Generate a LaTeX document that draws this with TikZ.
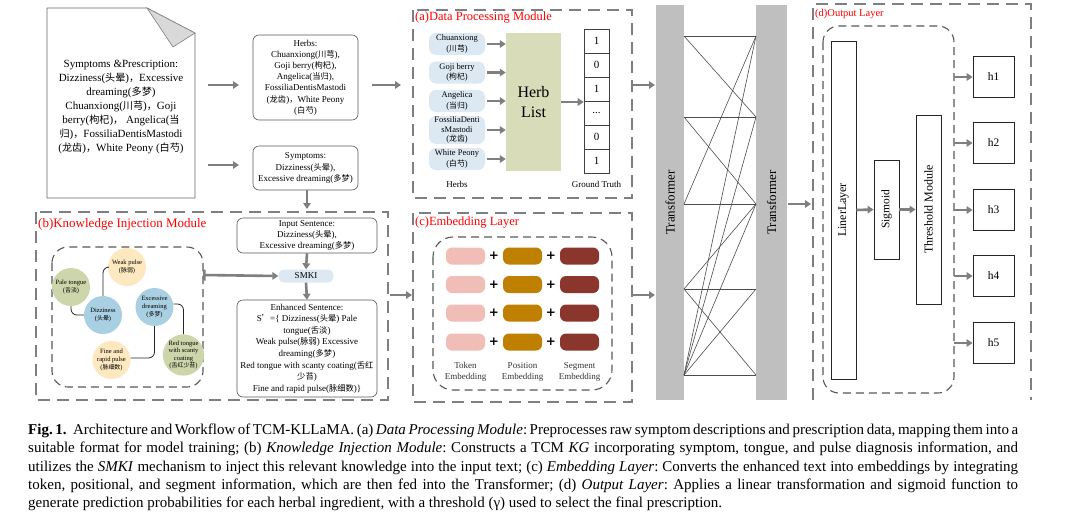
\documentclass[tikz,border=0pt]{standalone}
\usepackage{fontspec}
\setmainfont{Liberation Serif}
\newfontfamily\cjk[Scale=0.92]{Noto Sans CJK SC}
\newfontfamily\plusfont{DejaVu Sans}
\usetikzlibrary{arrows.meta}
\newcommand{\zh}[1]{{\cjk #1}}
\newcommand{\fsz}[2]{\fontsize{#1}{#2}\selectfont}
\definecolor{dgray}{HTML}{7F7F7F}
\definecolor{lblue}{HTML}{DCE9F3}
\definecolor{olive}{HTML}{D8DCB9}
\definecolor{kgblue}{HTML}{A8CFE2}
\definecolor{kggreen}{HTML}{CDD5AA}
\definecolor{kgyellow}{HTML}{FDE8C0}
\definecolor{tokc}{HTML}{F0BDB7}
\definecolor{posc}{HTML}{BF8000}
\definecolor{segc}{HTML}{8B362D}
\definecolor{trg}{HTML}{BFBFBF}
\frenchspacing
\begin{document}
\begin{tikzpicture}[x=1pt,y=-1pt,
  mod/.style={draw=dgray, line width=1.6pt, dash pattern=on 12pt off 7pt},
  innerbox/.style={draw=black!65, line width=1.1pt, dash pattern=on 8pt off 5pt, rounded corners=16pt},
  arr/.style={draw=dgray, line width=2.6pt, -{Triangle[length=6pt,width=7.5pt]}},
  txtbox/.style={draw=black!65, line width=0.6pt, rounded corners=6pt, align=center, font=\fsz{9}{11.2}, inner sep=1pt},
  herb/.style={fill=lblue, rounded corners=7pt, minimum width=56pt, minimum height=22pt, align=center, font=\fsz{8.5}{10.5}, inner sep=0.5pt},
  modlabel/.style={text=red, anchor=west, inner sep=0pt},
  kg/.style={circle, minimum size=38pt, inner sep=0pt, align=center, font=\fsz{6.5}{7.6}},
  kgline/.style={draw=black!85, line width=0.8pt, rounded corners=6pt},
  pill/.style={rounded corners=6pt, minimum width=39pt, minimum height=17pt, inner sep=0pt},
  cell/.style={draw=black!75, line width=0.6pt, minimum width=25pt, minimum height=24pt, inner sep=0pt, font=\fsz{11}{13}},
  blk/.style={draw=black!85, line width=0.8pt, inner sep=0pt, align=center},
  tbar/.style={fill=trg, inner sep=0pt, font=\fsz{13}{15}},
  link/.style={draw=black!70, line width=0.6pt},
  plus/.style={font=\plusfont\bfseries\fsz{12}{13}, inner sep=0pt},
  captext/.style={anchor=base west, inner sep=0pt, font=\fsz{15}{17}}
]
\fill[white] (0,0) rectangle (1072,523);
\useasboundingbox (0,0) rectangle (1072,523);

% ---------- raw document ----------
\draw[black!60, line width=0.6pt] (47,8) -- (147,8) -- (195,33) -- (195,198) -- (47,198) -- cycle;
\filldraw[fill=black!15, draw=black!50, line width=0.6pt] (147,8) -- (195,33) -- (173,47) -- cycle;
\node[align=center, font=\fsz{11}{14}, inner sep=0pt] (doc) at (121,107)
 {Symptoms \&Prescription:\\
  Dizziness(\zh{头晕})\zh{，}Excessive\\
  dreaming(\zh{多梦})\\
  Chuanxiong(\zh{川芎})\zh{，}Goji\\
  berry(\zh{枸杞})\zh{，} Angelica(\zh{当}\\
  \zh{归})\zh{，}FossiliaDentisMastodi\\
  (\zh{龙齿})\zh{，}White Peony (\zh{白芍})};
\coordinate (da1) at (208,85); \coordinate (da2) at (239,85);
\coordinate (db1) at (208,165); \coordinate (db2) at (239,165);
\draw[arr] (da1) -- (da2);
\draw[arr] (db1) -- (db2);

% ---------- herbs / symptoms ----------
\node[txtbox, minimum width=105pt, minimum height=85pt] (herbs) at (305.5,77.5)
 {Herbs:\\Chuanxiong(\zh{川芎}),\\Goji berry(\zh{枸杞}),\\Angelica(\zh{当归}),\\FossiliaDentisMastodi\\(\zh{龙齿})\zh{，}White Peony\\(\zh{白芍})};
\node[txtbox, minimum width=105pt, minimum height=44pt] (symp) at (305.5,168)
 {Symptoms:\\Dizziness(\zh{头晕}),\\Excessive dreaming(\zh{多梦})};
\coordinate (ha1) at (372,85); \coordinate (ha2) at (401,85);
\draw[arr] (ha1) -- (ha2);
\coordinate (sd) at (307,209);
\draw[arr] (symp.south -| sd) -- (sd);

% ---------- (a) Data Processing Module ----------
\draw[mod] (413,10) rectangle (632,198);
\node[modlabel, font=\fsz{12.5}{14}] (la) at (415,18) {(a)Data Processing Module};
\node[herb] (hb1) at (457,44) {Chuanxiong\\(\zh{川芎})};
\node[herb] (hb2) at (457,72.5) {Goji berry\\(\zh{枸杞})};
\node[herb] (hb3) at (457,101) {Angelica\\(\zh{当归})};
\node[herb, minimum height=25pt, font=\fsz{8.5}{9.6}] (hb4) at (457,130) {FossiliaDenti\\sMastodi\\(\zh{龙齿})};
\node[herb] (hb5) at (457,159) {White Peony\\(\zh{白芍})};
\node[fill=olive, minimum width=55pt, minimum height=138pt, align=center, font=\fsz{16}{20}, inner sep=0pt] (hl) at (533.5,102) {Herb\\List};
\foreach \i in {1,...,5} { \draw[arr] ([xshift=2pt]hb\i.east) -- (hb\i.east -| hl.west); }
\node[cell] (g1) at (596.5,41) {1};
\node[cell] (g2) at (596.5,65) {0};
\node[cell] (g3) at (596.5,89) {1};
\node[cell] (g4) at (596.5,113) {...};
\node[cell] (g5) at (596.5,137) {0};
\node[cell] (g6) at (596.5,161) {1};
\draw[arr] (hl.east) -- (hl.east -| g1.west);
\node[font=\fsz{9}{11}] (lh) at (457,184) {Herbs};
\node[font=\fsz{9}{11}] (lg) at (596.5,184) {Ground Truth};

% ---------- (b) Knowledge Injection Module ----------
\draw[mod] (36,212) rectangle (388,400);
\node[modlabel, font=\fsz{13}{15}] (lb) at (38,224) {(b)Knowledge Injection Module};
\draw[innerbox] (52,247) rectangle (203,387);
\node[kg, fill=kggreen] (pale) at (71,287) {Pale tongue\\(\zh{舌淡})};
\node[kg, fill=kgyellow] (weak) at (127,267) {Weak pulse\\(\zh{脉弱})};
\node[kg, fill=kgblue] (dizz) at (103,315) {Dizziness\\(\zh{头晕})};
\node[kg, fill=kgblue] (exc) at (154.5,307) {Excessive\\dreaming\\(\zh{多梦})};
\node[kg, fill=kgyellow] (fine) at (111.5,360) {Fine and\\rapid pulse\\(\zh{脉细数})};
\node[kg, fill=kggreen] (red) at (183.5,355) {Red tongue\\with scanty\\coating\\(\zh{舌红少苔})};
\draw[kgline] (pale.south) |- (dizz.west);
\draw[kgline] (weak.west) -| (dizz.north);
\draw[kgline] ([yshift=3pt]exc.east) -| (red.north);
\draw[kgline] (exc.south) |- ([yshift=2pt]fine.east);

\node[txtbox, minimum width=140pt, minimum height=35pt] (inp) at (307,235.5)
 {Input Sentence:\\Dizziness(\zh{头晕}),\\Excessive dreaming(\zh{多梦})};
\node[fill=lblue, rounded corners=6pt, minimum width=55pt, minimum height=13pt, inner sep=0pt, font=\fsz{9}{11}] (smki) at (306,276) {SMKI};
\node[txtbox, minimum width=140pt, minimum height=97pt, font=\fsz{9}{11.6}] (enh) at (307,348.5)
 {Enhanced Sentence:\\
  S\zh{’}=\{ Dizziness(\zh{头晕}) Pale\\
  tongue(\zh{舌淡})\\
  Weak pulse(\zh{脉弱}) Excessive\\
  dreaming(\zh{多梦})\\
  Red tongue with scanty coating(\zh{舌红}\\
  \zh{少苔})\\
  Fine and rapid pulse(\zh{脉细数})\}};
\draw[arr] (inp.south) -- (smki.north);
\draw[arr] (smki.south) -- (enh.north);
\coordinate (kgr) at (203,275);
\draw[arr, {Bar[width=11pt]}-{Triangle[length=6pt,width=7.5pt]}] (kgr) -- (smki.west);
\coordinate (bc1) at (390,295); \coordinate (bc2) at (412,295);
\draw[arr] (bc1) -- (bc2);

% ---------- (c) Embedding Layer ----------
\draw[mod] (413,213) rectangle (632,402);
\node[modlabel, font=\fsz{12.5}{14}] (lc) at (415,223) {(c)Embedding Layer};
\draw[innerbox, rounded corners=20pt] (433,237) rectangle (612,390);
\foreach \y/\k in {256/1,284.5/2,313/3,342/4} {
  \node[pill, fill=tokc] (tk\k) at (465.5,\y) {};
  \node[pill, fill=posc] (ps\k) at (522.5,\y) {};
  \node[pill, fill=segc] (sg\k) at (579.5,\y) {};
  \node[plus] (pa\k) at (494,\y) {+};
  \node[plus] (pb\k) at (551,\y) {+};
}
\node[align=center, font=\fsz{9}{11}, text=black!80] (ltk) at (465.5,371.5) {Token\\Embedding};
\node[align=center, font=\fsz{9}{11}, text=black!80] (lps) at (522.5,371.5) {Position\\Embedding};
\node[align=center, font=\fsz{9}{11}, text=black!80] (lsg) at (579.5,371.5) {Segment\\Embedding};

% ---------- Transformers ----------
\coordinate (at1) at (633,85); \coordinate (at2) at (655,85);
\coordinate (ct1) at (633,295); \coordinate (ct2) at (655,295);
\draw[arr] (at1) -- (at2);
\draw[arr] (ct1) -- (ct2);
\node[tbar, rotate=90, minimum width=395pt, minimum height=28pt] (t1) at (670,202.5) {Transformer};
\node[tbar, rotate=90, minimum width=395pt, minimum height=31pt] (t2) at (771.5,202.5) {Transformer};
\foreach \i/\y in {1/36,2/117,3/204,4/289,5/375} {
  \coordinate (L\i) at (684,\y);
  \coordinate (R\i) at (756,\y);
  \draw[link] (L\i) -- (R\i);
}
\foreach \a/\b in {1/2,2/3,3/1,4/3,4/5,5/1,5/2,5/3,5/4} { \draw[link] (L\a) -- (R\b); }
\coordinate (td1) at (788,204); \coordinate (td2) at (811,204);
\draw[arr] (td1) -- (td2);

% ---------- (d) Output Layer ----------
\draw[mod] (813,400) -- (813,4) -- (1031,4) -- (1031,400);
\node[modlabel, font=\fsz{10.5}{12}] (ld) at (815,14) {(d)Output Layer};
\draw[innerbox] (823,26) rectangle (954,393);
\node[blk, rotate=90, minimum width=338pt, minimum height=25pt, font=\fsz{12}{14}] (lin) at (843.5,210) {LinerLayer};
\node[blk, rotate=90, minimum width=99pt, minimum height=25pt, font=\fsz{11.5}{13}] (sig) at (886.5,209.5) {Sigmoid};
\node[blk, rotate=90, minimum width=189pt, minimum height=25pt, font=\fsz{12}{14}] (thr) at (928.5,209.5) {Threshold Module};
\draw[arr] (lin.south) -- (sig.north);
\draw[arr] (sig.south) -- (thr.north);
\foreach \i/\y in {1/77,2/143,3/210,4/276,5/343} {
  \node[blk, minimum size=41pt, font=\fsz{11.5}{13}] (o\i) at (993.5,\y) {h\i};
  \coordinate (oi\i) at (954,\y);
  \draw[arr] (oi\i) -- (o\i.west);
}

% ---------- caption ----------
\node[captext] (c1) at (28,434.5) {\makebox[990pt][s]{\textbf{Fig. 1.}\hspace{4pt} Architecture and Workflow of TCM-KLLaMA. (a) \textit{Data Processing Module}: Preprocesses raw symptom descriptions and prescription data, mapping them into a}};
\node[captext] (c2) at (28,452.8) {\makebox[990pt][s]{suitable format for model training; (b) \textit{Knowledge Injection Module}: Constructs a TCM \textit{KG} incorporating symptom, tongue, and pulse diagnosis information, and}};
\node[captext] (c3) at (28,471.2) {\makebox[990pt][s]{utilizes the \textit{SMKI} mechanism to inject this relevant knowledge into the input text; (c) \textit{Embedding Layer}: Converts the enhanced text into embeddings by integrating}};
\node[captext] (c4) at (28,489.5) {\makebox[990pt][s]{token, positional, and segment information, which are then fed into the Transformer; (d) \textit{Output Layer}: Applies a linear transformation and sigmoid function to}};
\node[captext] (c5) at (28,507.8) {generate prediction probabilities for each herbal ingredient, with a threshold (γ) used to select the final prescription.};
\end{tikzpicture}
\end{document}
